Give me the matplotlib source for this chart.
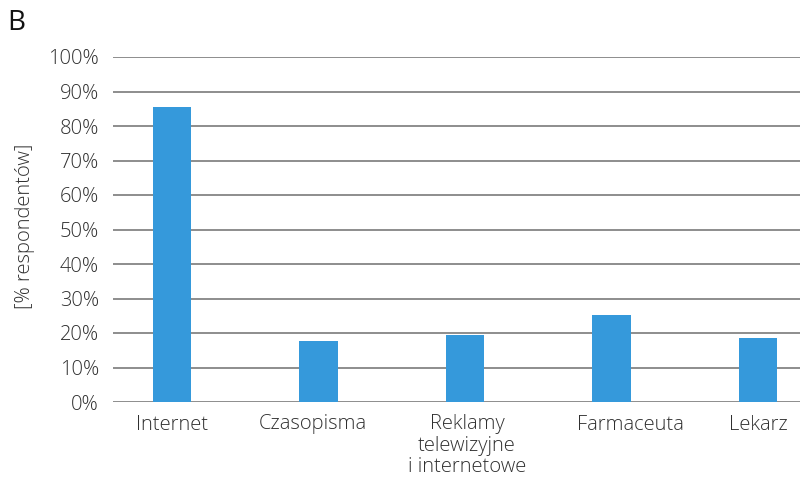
import matplotlib.pyplot as plt
from matplotlib.ticker import PercentFormatter
from matplotlib.transforms import ScaledTranslation

plt.rcParams['font.family'] = ['Open Sans', 'DejaVu Sans']

# źródła informacji i odsetek respondentów
categories = ['Internet', 'Czasopisma', 'Reklamy\ntelewizyjne\ni internetowe', 'Farmaceuta', 'Lekarz']
values = [85.5, 17.6, 19.4, 25.1, 18.5]

text_color = '#303030'
bar_color = '#3599db'
fs = 14.5

fig = plt.figure(figsize=(8, 4.8), dpi=100)
ax = fig.add_axes([113 / 800, 1 - 402 / 480, 1 - 113 / 800, (402 - 57) / 480])

x = range(len(categories))
ax.bar(x, values, width=0.26, color=bar_color, zorder=3)

ax.set_ylim(0, 100)
ax.set_xlim(-0.403, 4.287)
ax.set_yticks(range(0, 101, 10))
ax.yaxis.set_major_formatter(PercentFormatter(decimals=0))
ax.set_xticks(list(x))
ax.set_xticklabels(categories, fontsize=fs, color=text_color, linespacing=1.1,
                   fontweight='light')
ax.tick_params(axis='y', labelsize=fs, labelcolor=text_color, length=0, pad=10)
ax.tick_params(axis='x', length=0, pad=9)
for lbl in ax.get_yticklabels():
    lbl.set_fontweight('light')

# lekkie przesunięcie niektórych podpisów osi X (w pikselach)
shifts = [0, -6, 2, 19, 0]
for lbl, dx in zip(ax.get_xticklabels(), shifts):
    lbl.set_transform(lbl.get_transform() + ScaledTranslation(dx / 100, 0, fig.dpi_scale_trans))

ax.grid(axis='y', color='#858585', linewidth=1.3, zorder=0)
for s in ax.spines.values():
    s.set_visible(False)

fig.text(25 / 800, 1 - 226 / 480, '[% respondentów]', rotation=90, ha='center', va='center',
         fontsize=fs, color=text_color, fontweight='light')
fig.text(7 / 800, 1 - 23 / 480, 'B', ha='left', va='center', fontsize=20, color='#111111')

fig.savefig('out.png', dpi=100)
